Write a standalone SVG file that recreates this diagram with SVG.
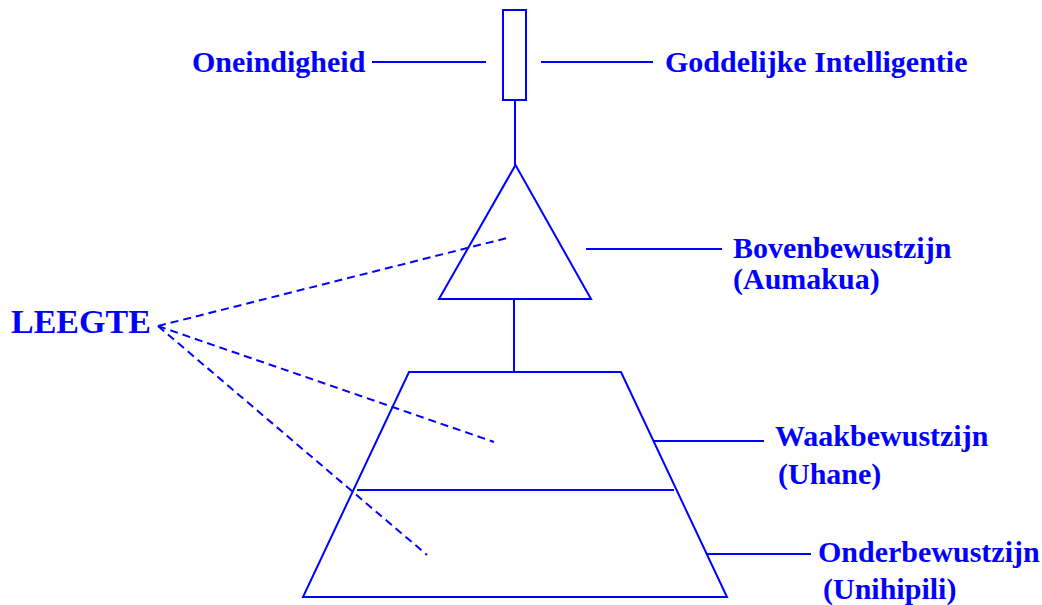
<svg xmlns="http://www.w3.org/2000/svg" width="1042" height="605" viewBox="0 0 1042 605">
<style>
.l{stroke:#0000ff;stroke-width:2;fill:none}
.d{stroke:#0000ff;stroke-width:2;fill:none;stroke-dasharray:8 5}
.t{font-family:"Liberation Serif","Times New Roman",serif;font-weight:bold;font-size:30px;fill:#0000ff}
.big{font-size:34px}
</style>
<rect width="1042" height="605" fill="#ffffff"/>
<g id="connectors">
<line class="l" x1="372" y1="62" x2="486" y2="62"/>
<line class="l" x1="541" y1="62" x2="653" y2="62"/>
<line class="l" x1="515" y1="100" x2="515" y2="165"/>
<line class="l" x1="514" y1="299" x2="514" y2="372"/>
<line class="l" x1="586" y1="249" x2="722" y2="249"/>
<line class="l" x1="654" y1="441" x2="764" y2="441"/>
<line class="l" x1="707" y1="554" x2="811" y2="554"/>
<line class="d" x1="158" y1="326" x2="511" y2="237"/>
<line class="d" x1="158" y1="326" x2="494" y2="442"/>
<line class="d" x1="158" y1="326" x2="427" y2="555"/>
</g>
<g id="rect-node"><rect class="l" x="503" y="10" width="23" height="90"/></g>
<g id="triangle-node"><polygon class="l" points="515.5,165 439,299 591,299"/></g>
<g id="trapezoid-node">
<polygon class="l" points="409,372 621,372 727,597 303,597"/>
<line class="l" x1="357" y1="490" x2="674" y2="490"/>
</g>
<g id="label-oneindigheid"><text class="t" x="192" y="72">Oneindigheid</text></g>
<g id="label-goddelijke"><text class="t" x="665" y="72">Goddelijke Intelligentie</text></g>
<g id="label-boven"><text class="t" x="733" y="258">Bovenbewustzijn</text><text class="t" x="733" y="289">(Aumakua)</text></g>
<g id="label-waak"><text class="t" x="775" y="446">Waakbewustzijn</text><text class="t" x="778" y="484">(Uhane)</text></g>
<g id="label-onder"><text class="t" x="818" y="562">Onderbewustzijn</text><text class="t" x="823" y="599">(Unihipili)</text></g>
<g id="label-leegte"><text class="t big" x="11" y="333">LEEGTE</text></g>
</svg>
